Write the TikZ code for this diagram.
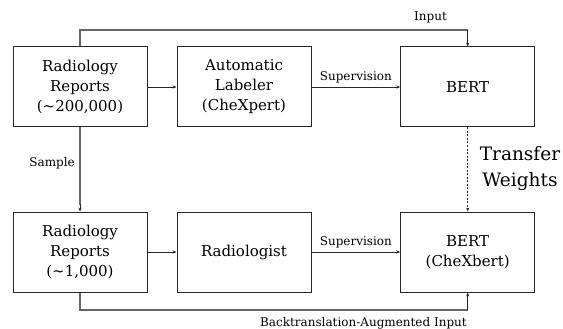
\documentclass[tikz,border=0pt]{standalone}
\usepackage{fontspec}
\setmainfont{DejaVu Serif}
\usetikzlibrary{arrows.meta}
\begin{document}
\begin{tikzpicture}[x=1pt,y=-1pt,
  box/.style={draw=black!85,line width=1pt,minimum width=134pt,minimum height=80pt,align=center,font=\fontsize{15}{20}\selectfont,inner sep=0pt},
  conn/.style={draw=black!60,line width=1.3pt},
  arr/.style={-{Stealth[length=4pt,width=3.2pt]},draw=black!85,line width=0.9pt},
  lbl/.style={font=\fontsize{12}{14}\selectfont,inner sep=1pt}]
\useasboundingbox (0,0) rectangle (563,329);
\node[box] (r1) at (80,87) {Radiology\\Reports\\(\textasciitilde200,000)};
\node[box] (al) at (244,87) {Automatic\\Labeler\\(CheXpert)};
\node[box] (b1) at (467.7,87) {BERT};
\node[box] (r2) at (80,252) {Radiology\\Reports\\(\textasciitilde1,000)};
\node[box] (rad) at (244,252) {Radiologist};
\node[box] (b2) at (467.7,252) {BERT\\(CheXbert)};
\coordinate (t1) at (80,30);
\coordinate (t2) at (467.7,30);
\coordinate (u1) at (80,310);
\coordinate (u2) at (467.7,310);
% top input line
\draw[conn] (r1.north) -- (t1) -- (t2);
\draw[arr] (t2) -- (b1.north);
\node[lbl] (inlbl) at (430.5,17) {Input};
% horizontal arrows
\draw[arr] (r1.east) -- (al.west);
\draw[arr] (al.east) -- node[lbl,above=3pt] (s1) {Supervision} (b1.west);
\draw[arr] (r2.east) -- (rad.west);
\draw[arr] (rad.east) -- node[lbl,above=3pt] (s2) {Supervision} (b2.west);
% sample
\draw[conn] (r1.south) -- (80,205);
\draw[arr] (80,204) -- (r2.north);
\node[lbl,anchor=east] (samp) at (76,163) {Sample};
% dashed transfer
\draw[arr,dashed,dash pattern=on 2pt off 1.5pt] (b1.south) -- (b2.north);
\node[font=\fontsize{18.5}{26}\selectfont,align=center,inner sep=0pt] (tw) at (520,169) {Transfer\\Weights};
% bottom line
\draw[conn] (r2.south) -- (u1) -- (u2);
\draw[arr] (u2) -- (b2.south);
\node[lbl,anchor=east] (bt) at (468,323) {Backtranslation-Augmented Input};
\end{tikzpicture}
\end{document}
